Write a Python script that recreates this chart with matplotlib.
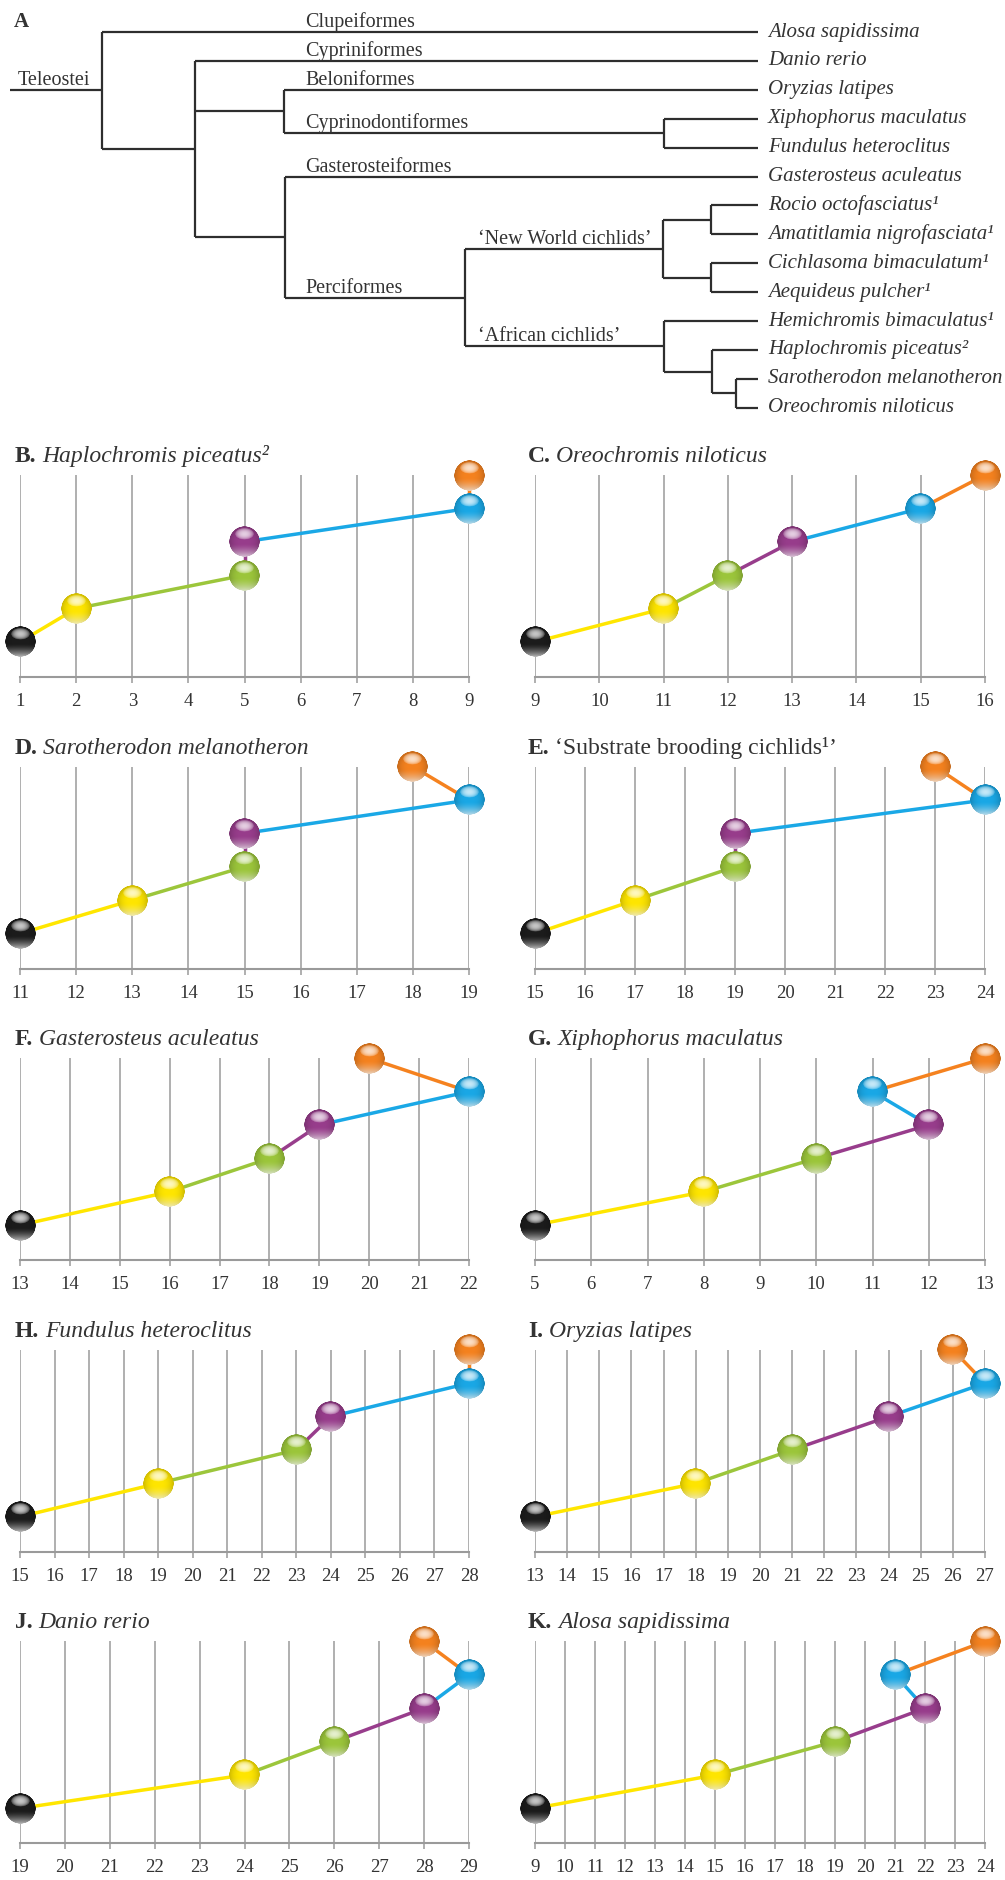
import numpy as np
import matplotlib
matplotlib.use("Agg")
import matplotlib.pyplot as plt
import matplotlib.colors as mcolors
from matplotlib.offsetbox import OffsetImage, AnnotationBbox

plt.rcParams['font.family'] = ['Liberation Serif', 'DejaVu Serif']

W, H = 1005, 1880
INK = '#333333'
GRID = '#9a9a9a'

# ---------------- panel A : phylogeny ----------------
species = ['Alosa sapidissima', 'Danio rerio', 'Oryzias latipes',
           'Xiphophorus maculatus', 'Fundulus heteroclitus',
           'Gasterosteus aculeatus', 'Rocio octofasciatus¹',
           'Amatitlamia nigrofasciata¹', 'Cichlasoma bimaculatum¹',
           'Aequideus pulcher¹', 'Hemichromis bimaculatus¹',
           'Haplochromis piceatus²', 'Sarotherodon melanotheron',
           'Oreochromis niloticus']


def node(x, kids, label=None):
    return {'x': x, 'kids': kids, 'label': label}


def leaf(i, label=None):
    return {'leaf': i, 'label': label}


tree = node(102, [
    leaf(0, 'Clupeiformes'),
    node(195, [
        leaf(1, 'Cypriniformes'),
        node(284, [leaf(2, 'Beloniformes'),
                   node(664, [leaf(3), leaf(4)], 'Cyprinodontiformes')]),
        node(285, [
            leaf(5, 'Gasterosteiformes'),
            node(465, [
                node(663, [node(711, [leaf(6), leaf(7)]),
                           node(711, [leaf(8), leaf(9)])],
                     '‘New World cichlids’'),
                node(664, [leaf(10),
                           node(712, [leaf(11),
                                      node(736, [leaf(12), leaf(13)])])],
                     '‘African cichlids’'),
            ], 'Perciformes'),
        ]),
    ]),
])

ROW0, ROWSTEP, TIP_X = 32, 28.9, 758

# ---------------- panels B-K : developmental stages ----------------
letters = ['B', 'C', 'D', 'E', 'F', 'G', 'H', 'I', 'J', 'K']
names = ['Haplochromis piceatus²', 'Oreochromis niloticus',
         'Sarotherodon melanotheron', '‘Substrate brooding cichlids¹’',
         'Gasterosteus aculeatus', 'Xiphophorus maculatus',
         'Fundulus heteroclitus', 'Oryzias latipes', 'Danio rerio',
         'Alosa sapidissima']
italic = [True, True, True, False, True, True, True, True, True, True]
# day at which each of the six stages is reached (black .. orange)
days = [[1, 2, 5, 5, 9, 9],
        [9, 11, 12, 13, 15, 16],
        [11, 13, 15, 15, 19, 18],
        [15, 17, 19, 19, 24, 23],
        [13, 16, 18, 19, 22, 20],
        [5, 8, 10, 12, 11, 13],
        [15, 19, 23, 24, 28, 28],
        [13, 18, 21, 24, 27, 26],
        [19, 24, 26, 28, 29, 28],
        [9, 15, 19, 22, 21, 24]]
stages = [0, 1, 2, 3, 4, 5]
stage_colors = ['#1c1c1c', '#ffe600', '#9cc63b', '#983d8c', '#1aa8e6', '#f5821f']


def ball_img(c, n=90):
    rgb = np.array(mcolors.to_rgb(c))
    t = np.linspace(-1, 1, n)
    u, v = np.meshgrid(t, t)
    r = np.hypot(u, v)
    alpha = np.clip((1 - r) * n / 2, 0, 1)
    col = np.ones((n, n, 3)) * rgb
    col *= (1 - 0.2 * r ** 3)[..., None]
    low = (np.clip((v - 0.15) / 0.85, 0, 1) ** 1.5 * 0.7)[..., None]
    col = col * (1 - low) + low
    g = (u / 0.62) ** 2 + ((v + 0.5) / 0.38) ** 2
    gl = (np.clip(1 - g, 0, 1) ** 0.6 * 0.75)[..., None]
    col = col * (1 - gl) + gl
    return np.dstack([np.clip(col, 0, 1), alpha])


balls = [ball_img(c) for c in stage_colors]

fig = plt.figure(figsize=(W / 100, H / 100), dpi=100)

# full-figure overlay in pixel units for the tree and the panel titles
ov = fig.add_axes([0, 0, 1, 1])
ov.set_xlim(0, W)
ov.set_ylim(H, 0)
ov.axis('off')

tree_kw = dict(color='#2e2e2e', lw=1.6, solid_capstyle='butt')
txt_kw = dict(fontsize=14.5, color=INK)


def draw(nd, parent_x):
    if 'leaf' in nd:
        y = ROW0 + ROWSTEP * nd['leaf']
        ov.plot([parent_x, TIP_X], [y, y], **tree_kw)
        ov.text(TIP_X + 10, y, species[nd['leaf']], style='italic',
                va='center', fontsize=15, color=INK)
    else:
        ys = [draw(k, nd['x']) for k in nd['kids']]
        y = (min(ys) + max(ys)) / 2
        ov.plot([nd['x'], nd['x']], [min(ys), max(ys)], **tree_kw)
        ov.plot([parent_x, nd['x']], [y, y], **tree_kw)
    if nd['label']:
        ov.text(max(parent_x + 13, 305), y - 5, nd['label'], va='baseline', **txt_kw)
    return y


root_y = draw(tree, 10)
ov.text(18, root_y - 5, 'Teleostei', va='baseline', **txt_kw)
ov.text(14, 27, 'A', fontsize=15, fontweight='bold', color=INK, va='baseline')

# panel grid: 5 rows x 2 columns
col_x = [(20, 469), (535, 985)]
title_x = [15, 528]
AXIS0, PITCH, PH = 677, 291.6, 202
YLOW = -1.05

for k in range(10):
    row, col = divmod(k, 2)
    y_axis = AXIS0 + PITCH * row
    x0, x1 = col_x[col]
    ax = fig.add_axes([x0 / W, 1 - y_axis / H, (x1 - x0) / W, PH / H])
    d = days[k]
    ticks = list(range(min(d), max(d) + 1))
    ax.set_xlim(ticks[0], ticks[-1])
    ax.set_ylim(YLOW, stages[-1])
    ax.vlines(ticks, YLOW, stages[-1], color=GRID, lw=1.1, zorder=1)
    for s in ['left', 'right', 'top']:
        ax.spines[s].set_visible(False)
    ax.spines['bottom'].set_color(GRID)
    ax.spines['bottom'].set_linewidth(1.5)
    ax.set_yticks([])
    ax.set_xticks(ticks)
    ax.tick_params(axis='x', direction='out', length=4.5, width=1.1, color=GRID,
                   pad=7, labelsize=13.5, labelcolor=INK)
    ax.patch.set_visible(False)

    for i in range(1, len(stages)):
        ax.plot([d[i - 1], d[i]], [stages[i - 1], stages[i]],
                color=stage_colors[i], lw=2.5, zorder=3, clip_on=False,
                solid_capstyle='butt')
    for i in range(len(stages)):
        ab = AnnotationBbox(OffsetImage(balls[i], zoom=31 / 90, dpi_cor=False),
                            (d[i], stages[i]), frameon=False, pad=0,
                            annotation_clip=False, zorder=4)
        ax.add_artist(ab)

    ty = y_axis - 210
    t1 = ov.text(title_x[col], ty, letters[k] + '.', fontsize=17,
                 fontweight='bold', color=INK, va='bottom')
    ov.annotate(names[k], xy=(1, 0), xycoords=t1, xytext=(4, 0),
                textcoords='offset points', fontsize=17, color=INK,
                style='italic' if italic[k] else 'normal', va='bottom')

fig.savefig('out.png', dpi=100, facecolor='white')
